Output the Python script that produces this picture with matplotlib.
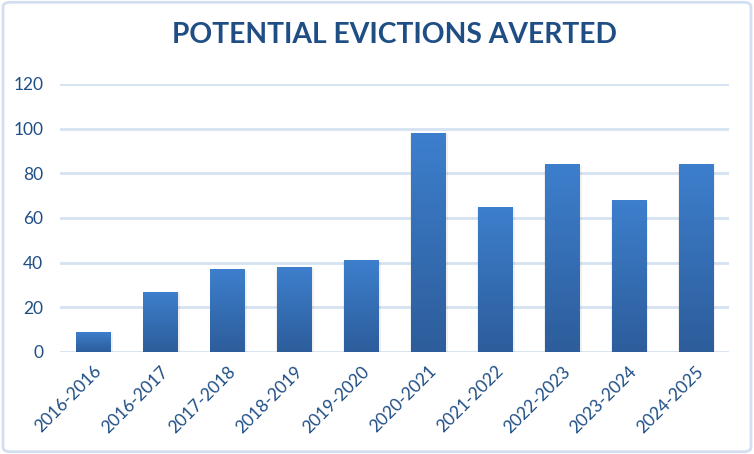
import numpy as np
import matplotlib
matplotlib.use("Agg")
import matplotlib.pyplot as plt
from matplotlib.patches import FancyBboxPatch
from matplotlib.colors import LinearSegmentedColormap

# datos del grafico
periodos = ["2016-2016", "2016-2017", "2017-2018", "2018-2019", "2019-2020",
            "2020-2021", "2021-2022", "2022-2023", "2023-2024", "2024-2025"]
desalojos = [9, 27, 37, 38, 41, 98, 65, 84, 68, 84]
ticks_y = [0, 20, 40, 60, 80, 100, 120]

azul_texto = "#1f4e85"
rejilla = "#d5e2f2"

plt.rcParams["font.family"] = ["Lato", "DejaVu Sans"]

fig = plt.figure(figsize=(7.54, 4.54), dpi=100)
ax = fig.add_axes([0.0796, 0.2247, 0.8874, 0.5903])

x = np.arange(len(periodos))
ancho = 0.51

# sombra suave
for xi, v in zip(x, desalojos):
    ax.bar(xi + 0.015, v, width=ancho + 0.05, bottom=-0.6, color="#000000",
           alpha=0.06, zorder=2, linewidth=0)

barras = ax.bar(x, desalojos, width=ancho, color="none", zorder=3, linewidth=0)

cmap = LinearSegmentedColormap.from_list("grad", ["#2d5d9b", "#3d7fcd"])
grad = np.linspace(0, 1, 256).reshape(-1, 1)
for b in barras:
    x0, y0 = b.get_x(), b.get_y()
    w, h = b.get_width(), b.get_height()
    im = ax.imshow(grad, cmap=cmap, origin="lower", aspect="auto",
                   extent=[x0, x0 + w, y0, y0 + h], zorder=3)
    im.set_clip_path(b)

ax.set_xlim(-0.5, len(periodos) - 0.5)
ax.set_ylim(0, 120)
ax.set_yticks(ticks_y)
ax.yaxis.grid(True, color=rejilla, linewidth=2, zorder=0)
ax.set_axisbelow(True)
for s in ax.spines.values():
    s.set_visible(False)
ax.tick_params(length=0, colors=azul_texto, labelsize=12.5)
ax.tick_params(axis="y", pad=12)
ax.tick_params(axis="x", pad=8)
ax.set_xticks(x)
ax.set_xticklabels(periodos, rotation=45, ha="right", rotation_mode="anchor")

fig.text(0.523, 0.923, "POTENTIAL EVICTIONS AVERTED", ha="center", va="center",
         fontsize=20.3, fontweight="bold", color=azul_texto)

marco = FancyBboxPatch((0.004, 0.005), 0.992, 0.99, boxstyle="round,pad=0,rounding_size=0.01",
                       transform=fig.transFigure, facecolor="none",
                       edgecolor="#d3dff0", linewidth=2)
fig.patches.append(marco)

fig.savefig("out.png", dpi=100)
